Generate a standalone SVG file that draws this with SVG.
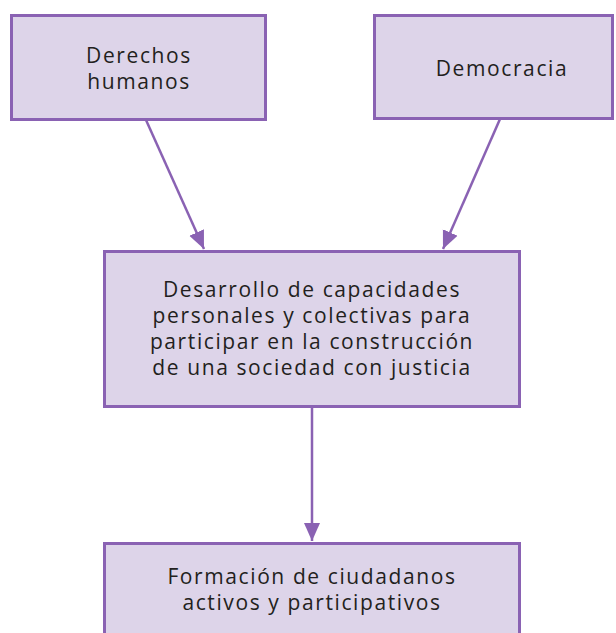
<svg xmlns="http://www.w3.org/2000/svg" width="616" height="633" viewBox="0 0 616 633">
<style>
.box{fill:#ddd4e9;stroke:#8a62b3;stroke-width:3}
.t{font-family:"Open Sans","DejaVu Sans",sans-serif;font-size:21px;letter-spacing:1.6px;fill:#231f20;text-anchor:middle}
.c{stroke:#8a62b3;stroke-width:2.5;fill:none}
</style>
<defs>
<marker id="ah" markerUnits="userSpaceOnUse" markerWidth="20" markerHeight="20" refX="18" refY="8" orient="auto" viewBox="0 0 20 16">
<path d="M0,0 L18,8 L0,16 Z" fill="#8a62b3"/>
</marker>
</defs>
<rect width="616" height="633" fill="#ffffff"/>
<g id="connectors">
<line class="c" x1="146" y1="120" x2="204" y2="249" marker-end="url(#ah)"/>
<line class="c" x1="500" y1="119" x2="443" y2="249" marker-end="url(#ah)"/>
<line class="c" x1="312" y1="407" x2="312" y2="541" marker-end="url(#ah)"/>
</g>
<g id="n1">
<rect class="box" x="11.5" y="15.5" width="254" height="104"/>
<text class="t" x="139" y="63">Derechos</text>
<text class="t" x="139" y="89">humanos</text>
</g>
<g id="n2">
<rect class="box" x="374.5" y="15.5" width="238" height="103"/>
<text class="t" x="502" y="76">Democracia</text>
</g>
<g id="n3">
<rect class="box" x="104.5" y="251.5" width="415" height="155"/>
<text class="t" x="312" y="297">Desarrollo de capacidades</text>
<text class="t" x="312" y="323">personales y colectivas para</text>
<text class="t" x="312" y="349">participar en la construcción</text>
<text class="t" x="312" y="375">de una sociedad con justicia</text>
</g>
<g id="n4">
<rect class="box" x="104.5" y="543.5" width="415" height="100"/>
<text class="t" x="312" y="584">Formación de ciudadanos</text>
<text class="t" x="312" y="610">activos y participativos</text>
</g>
</svg>
